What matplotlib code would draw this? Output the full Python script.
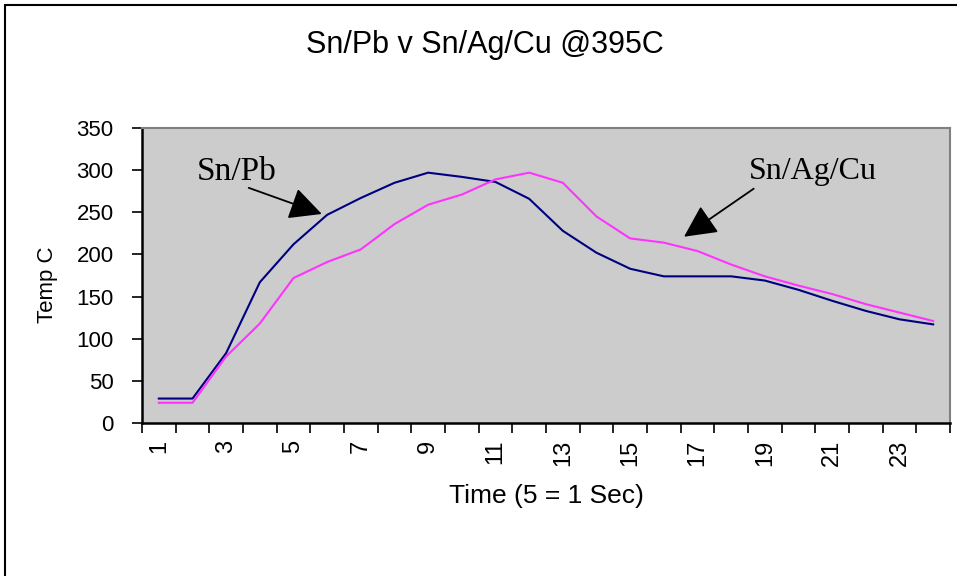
import numpy as np
import matplotlib
matplotlib.use('Agg')
import matplotlib.pyplot as plt
from matplotlib.patches import Rectangle

# Data (temperature in C per sample)
time_idx = list(range(1, 25))
sn_pb = [29, 29, 83, 167, 212, 247, 267, 285, 297, 292, 286, 266,
         228, 202, 183, 174, 174, 174, 169, 158, 145, 133, 123, 117]
sn_ag_cu = [24, 24, 79, 118, 172, 191, 206, 236, 259, 271, 289, 297,
            285, 245, 219, 214, 204, 188, 174, 163, 153, 141, 131, 121]
y_ticks = [0, 50, 100, 150, 200, 250, 300, 350]
x_labels = [str(i) for i in range(1, 25, 2)]

plt.rcParams['font.family'] = ['Liberation Sans', 'DejaVu Sans']

fig = plt.figure(figsize=(9.57, 5.76), dpi=100)
fig.patch.set_facecolor('white')
fig.patches.append(Rectangle((5/957, -0.1), 1.2, (571/576) + 0.1,
                             transform=fig.transFigure, fill=False,
                             edgecolor='black', linewidth=1.5))

ax = fig.add_axes([142/957, 1 - 423/576, 808/957, 295/576])
ax.set_facecolor('#cccccc')

ax.plot(time_idx, sn_pb, color='#000080', linewidth=1.5)
ax.plot(time_idx, sn_ag_cu, color='#ff33ff', linewidth=1.5)

ax.set_xlim(0.5, 24.5)
ax.set_ylim(0, 350)
ax.set_yticks(y_ticks)
ax.tick_params(axis='y', direction='out', length=7.5, width=1.2, labelsize=16, pad=13)

# category boundaries get tick marks, odd categories get labels
ax.set_xticks(np.arange(0.5, 25, 1))
ax.set_xticklabels([])
ax.tick_params(axis='x', which='major', direction='out', length=7.5, width=1.2)
ax.set_xticks(list(range(1, 25, 2)), minor=True)
ax.set_xticklabels(x_labels, minor=True, rotation=90)
ax.tick_params(axis='x', which='minor', length=0, pad=12, labelsize=17)

for s in ['top', 'right']:
    ax.spines[s].set_color('#808080')
    ax.spines[s].set_linewidth(1.5)
for s in ['left', 'bottom']:
    ax.spines[s].set_color('black')
    ax.spines[s].set_linewidth(1.8)

ax.set_ylabel('Temp C', fontsize=16, va='center')
ax.yaxis.set_label_coords(-0.117, 0.47)
ax.set_xlabel('Time (5 = 1 Sec)', fontsize=19, va='center')
ax.xaxis.set_label_coords(0.5, -0.246)
fig.text(485/957, 1 - 45/576, 'Sn/Pb v Sn/Ag/Cu @395C', ha='center',
         va='center', fontsize=22)

# annotations with arrows
arrow = dict(arrowstyle='-|>,head_length=1.0,head_width=0.5', color='black',
             linewidth=1.3, mutation_scale=20, shrinkA=0, shrinkB=0)
ax.text(2.13, 298, 'Sn/Pb', fontsize=24, family='Liberation Serif',
        ha='left', va='center')
ax.annotate('', xy=(5.84, 248), xytext=(3.67, 279), arrowprops=arrow)
ax.text(20.42, 298, 'Sn/Ag/Cu', fontsize=23, family='Liberation Serif',
        ha='center', va='center')
ax.annotate('', xy=(16.6, 221), xytext=(18.67, 278), arrowprops=arrow)

plt.savefig('out.png', dpi=100)
